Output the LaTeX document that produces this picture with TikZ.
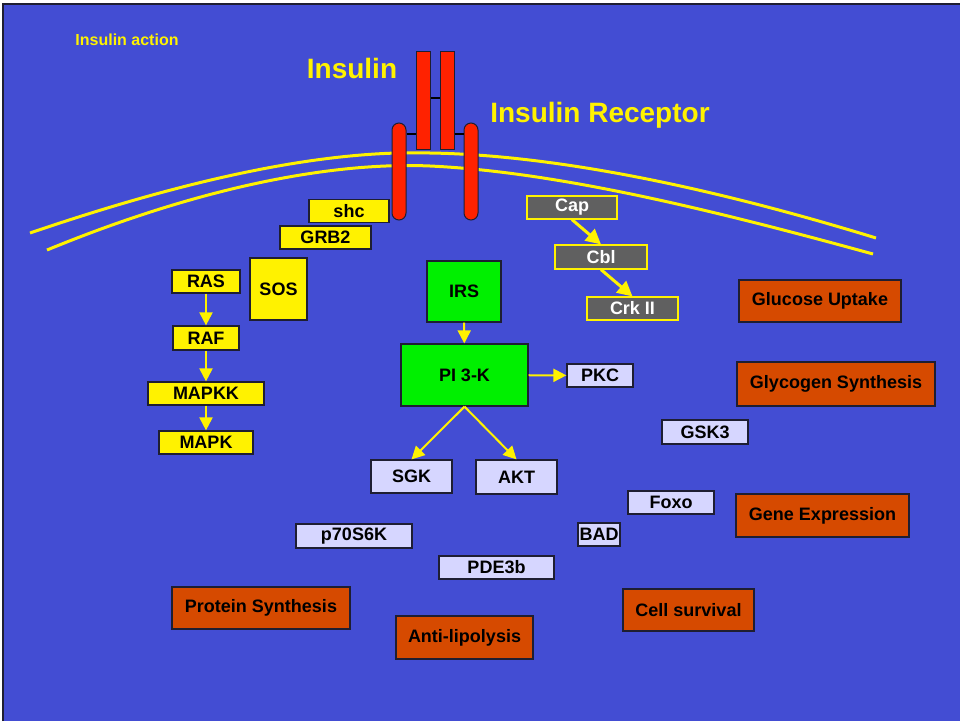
\documentclass[tikz,border=0pt]{standalone}
\usepackage{fontspec}
\setmainfont{Liberation Sans}
\usetikzlibrary{arrows.meta}
\definecolor{slideblue}{RGB}{67,77,211}
\definecolor{edgedark}{RGB}{30,30,50}
\definecolor{recred}{RGB}{255,34,0}
\definecolor{boxgreen}{RGB}{0,240,0}
\definecolor{boxgray}{RGB}{96,96,96}
\definecolor{boxlav}{RGB}{214,214,255}
\definecolor{boxorange}{RGB}{214,74,0}
\begin{document}
\begin{tikzpicture}[x=1pt, y=-1pt,
    every node/.style={inner sep=0pt, font=\fontsize{18}{20}\selectfont\bfseries},
    ybox/.style={draw=edgedark, line width=1.2pt, fill=yellow},
    gbox/.style={draw=edgedark, line width=1.2pt, fill=boxgreen},
    lbox/.style={draw=edgedark, line width=1.2pt, fill=boxlav},
    obox/.style={draw=edgedark, line width=1.2pt, fill=boxorange},
    cbox/.style={draw=yellow, line width=1.2pt, fill=boxgray, text=white},
    arm/.style={draw=edgedark, line width=1pt, fill=recred, minimum width=14pt, rounded corners=7pt},
    chain/.style={draw=edgedark, line width=1pt, fill=recred, minimum width=14pt, minimum height=98pt},
    sig/.style={draw=yellow, line width=2pt, -{Triangle[width=13pt,length=13pt]}},
    membrane/.style={draw=yellow, line width=3pt}]
  \useasboundingbox (0,0) rectangle (960,721);
  % slide background
  \fill[slideblue] (3,4) rectangle (960,721);
  \draw[edgedark, line width=1.5pt] (3,721) -- (3,4) -- (960,4);

  % titles
  \node[text=yellow, font=\fontsize{16}{18}\selectfont\bfseries] (title) at (127,40) {Insulin action};
  \node[text=yellow, font=\fontsize{28}{30}\selectfont\bfseries] (insulin) at (352,68) {Insulin};
  \node[text=yellow, font=\fontsize{28}{30}\selectfont\bfseries] (receptor) at (600,115) {Insulin Receptor};

  % cell membrane
  \draw[membrane] (30,233) .. controls (200,175) and (330,150) .. (430,153)
    .. controls (560,155) and (720,190) .. (876,238);
  \draw[membrane] (47,250) .. controls (210,183) and (340,162) .. (430,166)
    .. controls (560,172) and (720,212) .. (873,254);

  % receptor
  \node[chain] (chainL) at (423,100) {};
  \node[chain] (chainR) at (447,100) {};
  \node[arm, minimum height=97pt] (armL) at (399,171.5) {};
  \node[arm, minimum height=97pt] (armR) at (471,171.5) {};
  \draw[black, line width=2.5pt] (chainL.east |- 0,98) -- (chainR.west |- 0,98);
  \draw[black, line width=2.5pt] (armL.east |- 0,134) -- (chainL.west |- 0,134);
  \draw[black, line width=2.5pt] (chainR.east |- 0,134) -- (armR.west |- 0,134);

  % MAPK branch
  \node[ybox, minimum width=80pt, minimum height=23pt] (shc) at (349,211) {shc};
  \node[ybox, minimum width=91pt, minimum height=23pt] (grb2) at (325.5,237.5) {GRB2};
  \node[ybox, minimum width=57pt, minimum height=62pt] (sos) at (278.5,289) {SOS};
  \node[ybox, minimum width=68pt, minimum height=23pt] (ras) at (206,281.5) {RAS};
  \node[ybox, minimum width=66pt, minimum height=24pt] (raf) at (206,338) {RAF};
  \node[ybox, minimum width=116pt, minimum height=23pt] (mapkk) at (206,393.5) {MAPKK};
  \node[ybox, minimum width=94pt, minimum height=23pt] (mapk) at (206,442.5) {MAPK};
  \draw[sig] (ras) -- (raf);
  \draw[sig] (raf) -- (mapkk);
  \draw[sig] (mapkk) -- (mapk);

  % PI 3-K branch
  \node[gbox, minimum width=74pt, minimum height=61pt] (irs) at (464,291.5) {IRS};
  \node[gbox, minimum width=127pt, minimum height=62pt] (pi3k) at (464.5,375) {PI 3-K};
  \node[lbox, minimum width=66pt, minimum height=23pt] (pkc) at (600,375.5) {PKC};
  \node[lbox, minimum width=81pt, minimum height=33pt] (sgk) at (411.5,476.5) {SGK};
  \node[lbox, minimum width=81pt, minimum height=34pt] (akt) at (516.5,477) {AKT};
  \draw[sig] (irs) -- (pi3k);
  \draw[sig] (pi3k) -- (pkc);
  \draw[sig] (pi3k.south) -- (sgk.north);
  \draw[sig] (pi3k.south) -- (akt.north);

  % Cap / Cbl branch
  \node[cbox, minimum width=90pt, minimum height=23pt] (cap) at (572,207.5) {Cap};
  \node[cbox, minimum width=92pt, minimum height=24pt] (cbl) at (601,257) {Cbl};
  \node[cbox, minimum width=91pt, minimum height=23pt] (crk) at (632.5,308.5) {Crk II};
  \draw[sig, line width=3pt, -{Triangle[width=15pt,length=15pt]}] (cap.south) -- (cbl.north);
  \draw[sig, line width=3pt, -{Triangle[width=15pt,length=15pt]}] (cbl.south) -- (crk.north);

  % downstream targets
  \node[lbox, minimum width=86pt, minimum height=24pt] (gsk3) at (705,432) {GSK3};
  \node[lbox, minimum width=86pt, minimum height=23pt] (foxo) at (671,502.5) {Foxo};
  \node[lbox, minimum width=42pt, minimum height=23pt] (bad) at (599,534.5) {BAD};
  \node[lbox, minimum width=116pt, minimum height=24pt] (p70) at (354,536) {p70S6K};
  \node[lbox, minimum width=115pt, minimum height=23pt] (pde3b) at (496.5,567.5) {PDE3b};

  % effects
  \node[obox, minimum width=162pt, minimum height=42pt] (glucose) at (820,301) {Glucose Uptake};
  \node[obox, minimum width=198pt, minimum height=44pt] (glycogen) at (836,384) {Glycogen Synthesis};
  \node[obox, minimum width=173pt, minimum height=43pt] (gene) at (822.5,515.5) {Gene Expression};
  \node[obox, minimum width=178pt, minimum height=42pt] (protein) at (261,608) {Protein Synthesis};
  \node[obox, minimum width=137pt, minimum height=43pt] (lipo) at (464.5,637.5) {Anti-lipolysis};
  \node[obox, minimum width=131pt, minimum height=42pt] (survival) at (688.5,610) {Cell survival};
\end{tikzpicture}
\end{document}
